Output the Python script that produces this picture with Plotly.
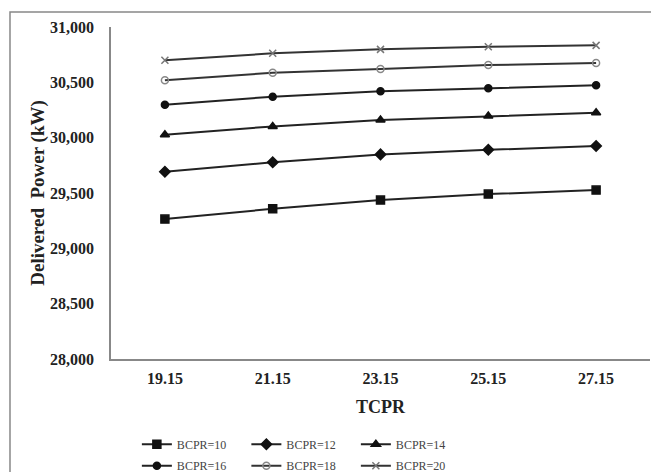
import plotly.graph_objects as go

tcpr = ["19.15", "21.15", "23.15", "25.15", "27.15"]
bcpr10 = [29264, 29357, 29436, 29490, 29526]
bcpr12 = [29692, 29777, 29849, 29890, 29924]
bcpr14 = [30026, 30102, 30159, 30195, 30225]
bcpr16 = [30298, 30370, 30419, 30446, 30473]
bcpr18 = [30518, 30587, 30620, 30656, 30675]
bcpr20 = [30699, 30762, 30798, 30822, 30834]
names = ["BCPR=10", "BCPR=12", "BCPR=14", "BCPR=16", "BCPR=18", "BCPR=20"]
yticks = [28000, 28500, 29000, 29500, 30000, 30500, 31000]

series = [bcpr10, bcpr12, bcpr14, bcpr16, bcpr18, bcpr20]
symbols = ["square", "diamond", "triangle-up", "circle", "circle-open", "x-thin-open"]
sizes = [8, 8, 8, 7, 7, 7]
mcolors = ["#111", "#111", "#111", "#111", "#888", "#777"]
lcolors = ["#222", "#222", "#222", "#222", "#333", "#333"]
legends = ["legend", "legend", "legend", "legend2", "legend2", "legend2"]

fig = go.Figure()
for s, n, sym, sz, mc, lc, lg in zip(series, names, symbols, sizes, mcolors, lcolors, legends):
    fig.add_trace(go.Scatter(
        x=tcpr, y=s, name=n, mode="lines+markers",
        line=dict(color=lc, width=2),
        marker=dict(symbol=sym, size=sz, color=mc, line=dict(color=mc, width=1.5)),
        legend=lg,
    ))

serif = "Liberation Serif, Times New Roman, serif"
leg_common = dict(orientation="h", xanchor="left", x=0.048,
                  font=dict(family=serif, size=12, color="#444"),
                  entrywidth=64.5, bgcolor="rgba(0,0,0,0)", tracegroupgap=0,
                  itemwidth=30)
# page has an 8px body offset: figure drawn at (8, 8)
fig.update_layout(
    width=651, height=464,
    margin=dict(l=103, r=9, t=19, b=113, autoexpand=False),
    paper_bgcolor="white", plot_bgcolor="white",
    font=dict(family=serif, color="#222"),
    legend=dict(**leg_common, y=-0.213, yanchor="top"),
    legend2=dict(**leg_common, y=-0.278, yanchor="top"),
    xaxis=dict(
        type="category", range=[-0.5, 4.5],
        showline=True, linecolor="#888", linewidth=1.5,
        showgrid=False, ticks="", ticklabelstandoff=4, automargin=False,
        tickfont=dict(family=serif, size=16, color="#222", weight="bold"),
        title=dict(text="<b>TCPR</b>", font=dict(family=serif, size=18, color="#222"), standoff=14),
    ),
    yaxis=dict(
        range=[28000, 31000], tickvals=yticks, tickformat=",",
        showline=True, linecolor="#888", linewidth=1.5, showgrid=False, ticks="",
        ticklabelstandoff=12, automargin=False,
        tickfont=dict(family=serif, size=16, color="#222", weight="bold"),
        title=dict(text="<b>Delivered  Power (kW)</b>", font=dict(family=serif, size=19, color="#222"), standoff=0),
    ),
    shapes=[dict(type="rect", xref="paper", yref="paper",
                 x0=-0.1874, x1=1.04, y0=-0.40, y1=1.045,
                 line=dict(color="#888", width=1.5))],
)

fig.write_html("out.html")
